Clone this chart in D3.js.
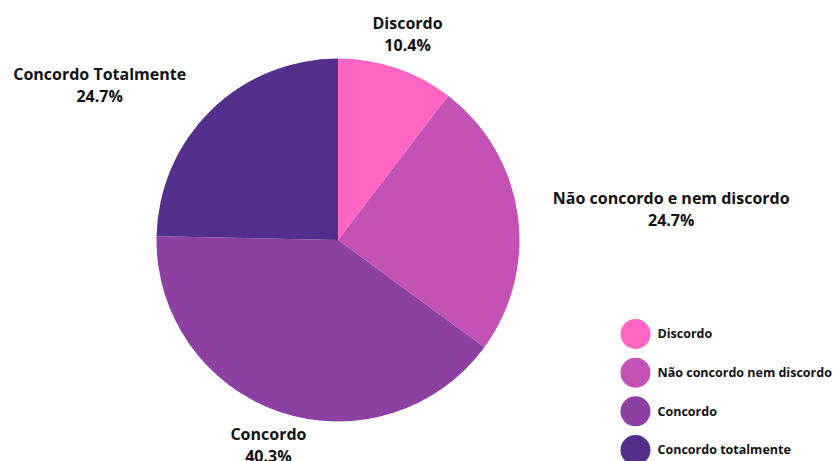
<!DOCTYPE html>
<html>
<head>
<meta charset="utf-8">
<script src="https://cdn.jsdelivr.net/npm/d3@7"></script>
<style>
  html, body { margin: 0; padding: 0; background: #ffffff; }
  svg text { font-family: "Open Sans", "Noto Sans", sans-serif; font-weight: 700; fill: #111; }
</style>
</head>
<body>
<svg id="chart" width="835" height="461"></svg>
<script>
// Survey answers, clockwise from 12 o'clock
const sliceLabels = ["Discordo", "Não concordo e nem discordo", "Concordo", "Concordo Totalmente"];
const legendLabels = ["Discordo", "Não concordo nem discordo", "Concordo", "Concordo totalmente"];
const percentages = [10.4, 24.7, 40.3, 24.7];
const sliceColors = ["#FF66C4", "#C452B5", "#8B40A2", "#522F8A"];

const svg = d3.select("#chart");
const cx = 338, cy = 240, radius = 181.5, labelRadius = 217;

const pie = d3.pie().sort(null).value(d => d.value);
const arcs = pie(percentages.map((v, i) => ({ value: v, label: sliceLabels[i], index: i })));

const color = d3.scaleOrdinal().domain(d3.range(percentages.length)).range(sliceColors);
const arc = d3.arc().innerRadius(0).outerRadius(radius);

const g = svg.append("g").attr("transform", `translate(${cx},${cy})`);

g.selectAll("path.slice")
  .data(arcs)
  .join("path")
  .attr("class", "slice")
  .attr("d", arc)
  .attr("fill", d => color(d.data.index));

// Slice labels: two centred lines, anchored just outside the pie;
// side labels hang off the anchor point instead of centring on it
const fmt = v => v.toFixed(1) + "%";
const labels = g.selectAll("g.label")
  .data(arcs)
  .join("g")
  .attr("class", "label");

labels.each(function (d) {
  const sel = d3.select(this);
  const t1 = sel.append("text").attr("text-anchor", "middle").attr("font-size", 16)
    .attr("y", -11).attr("dy", "0.35em").text(d.data.label);
  sel.append("text").attr("text-anchor", "middle").attr("font-size", 16)
    .attr("y", 11).attr("dy", "0.35em").text(fmt(d.data.value));
  const mid = (d.startAngle + d.endAngle) / 2;
  const px = labelRadius * Math.sin(mid);
  const py = -labelRadius * Math.cos(mid);
  const w = t1.node().getComputedTextLength();
  const s = Math.sin(mid);
  const shift = Math.abs(s) > 0.6 ? Math.sign(s) * w / 2 : 0;
  sel.attr("transform", `translate(${px + shift},${py})`);
});

// Legend
const legendY = d3.scalePoint().domain(d3.range(legendLabels.length)).range([334, 450]);
const legend = svg.append("g");
const items = legend.selectAll("g")
  .data(legendLabels)
  .join("g")
  .attr("transform", (d, i) => `translate(635.5,${legendY(i)})`);
items.append("circle").attr("r", 15).attr("fill", (d, i) => color(i));
items.append("text").attr("x", 22).attr("dy", "0.35em").attr("font-size", 12.5).text(d => d);
</script>
</body>
</html>
